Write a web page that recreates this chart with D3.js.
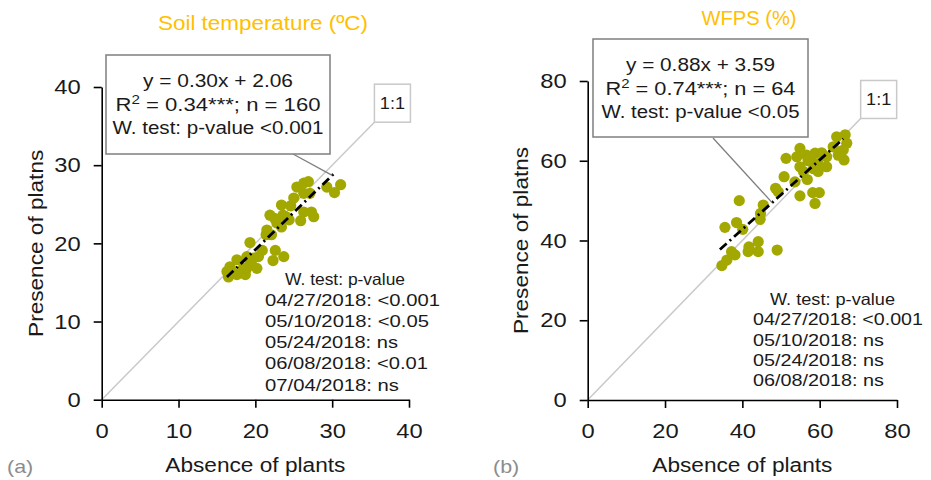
<!DOCTYPE html>
<html>
<head>
<meta charset="utf-8">
<script src="https://cdn.jsdelivr.net/npm/d3@7"></script>
<style>
  html, body { margin: 0; padding: 0; background: #fff; }
  svg { display: block; font-family: "Liberation Sans", Arial, sans-serif; }
</style>
</head>
<body>
<svg id="chart" width="931" height="480"></svg>
<script>
// ---------- DATA ----------
// Panel (a) Soil temperature: absence (x) vs presence (y)
const soilAbsence  = [26.3,26.9,25.4,27.1,26.3,29.3,31.1,30.3,23.4,24.6,21.9,23.6,24.4,26.3,27.3,27.6,25.9,22.8,23.4,21.5,22.1,21.4,19.3,22.6,23.7,22.3,20.4,19.7,19.3,20.2,18.9,17.6,16.7,16.3,16.5,17.6,18.7,18.9,18.4,17.0,20.9,24.0,25.0,22.5];
const soilPresence = [27.7,27.9,27.2,26.4,26.4,27.2,27.5,26.5,24.9,24.8,23.6,23.6,23.0,24.0,24.0,23.4,22.9,22.6,22.1,21.7,21.1,21.1,20.1,19.1,18.3,17.8,18.3,18.1,17.4,16.8,16.8,17.9,17.0,16.4,15.7,16.0,16.0,18.3,16.8,16.3,19.1,23.4,25.8,23.2];
// Panel (b) WFPS
const wfpsAbsence  = [34.7,36.0,37.2,38.1,35.5,38.5,40.1,39.2,41.5,41.7,44.1,44.1,49.0,44.6,44.7,45.4,48.6,49.3,50.8,51.3,54.9,54.1,54.9,53.6,54.9,56.8,56.6,57.9,58.8,59.6,59.6,61.8,61.8,58.2,59.9,58.8,64.4,66.6,67.0,66.1,64.8,66.3,58.4,55.8,60.5,63.5,57.0];
const wfpsPresence = [33.7,35.1,37.2,36.4,43.3,44.5,42.8,50.0,37.2,38.4,39.7,37.2,37.6,45.3,46.8,48.9,53.1,52.2,56.0,60.6,63.1,61.0,58.5,54.7,51.2,55.3,61.4,59.8,61.9,59.3,57.3,58.5,61.0,52.0,52.0,49.3,66.0,66.5,64.4,62.7,61.4,60.2,58.0,57.3,62.0,63.5,60.0];

// fitted lines (as drawn): slope, intercept, x-range
const soilFit = { slope: 0.95, intercept: 0.2, xFrom: 16.3, xTo: 30.4 };
const wfpsFit = { slope: 0.87, intercept: 8.0, xFrom: 34.2, xTo: 66.1 };
// 1:1 line extent
const soilOneToOne = [0, 35.5];
const wfpsOneToOne = [0, 70.6];

const soilTicks = [0, 10, 20, 30, 40];
const wfpsTicks = [0, 20, 40, 60, 80];

const panelTitles = ["Soil temperature (ºC)", "WFPS (%)"];
const soilEq = ["y = 0.30x + 2.06", ["R", "2", " = 0.34***; n = 160"], "W. test: p-value <0.001"];
const wfpsEq = ["y = 0.88x + 3.59", ["R", "2", " = 0.74***; n = 64"], "W. test: p-value <0.05"];
const noteHeader = "W. test: p-value";
const soilDates = ["04/27/2018: <0.001", "05/10/2018: <0.05", "05/24/2018: ns", "06/08/2018: <0.01", "07/04/2018: ns"];
const wfpsDates = ["04/27/2018: <0.001", "05/10/2018: ns", "05/24/2018: ns", "06/08/2018: ns"];

// ---------- DRAW ----------
const svg = d3.select("#chart");
const dotColor = "#a2a800";
const titleColor = "#ffc000";
const WIDE = 1.13; // reference typeface is wider than Liberation Sans

// stretch text horizontally to a target width (or by factor)
function stretch(sel, target) {
  sel.each(function () {
    const w = this.getComputedTextLength();
    const t = target == null ? w * WIDE : target;
    d3.select(this).attr("textLength", t).attr("lengthAdjust", "spacingAndGlyphs");
  });
}

function panel(cfg) {
  const x = d3.scaleLinear().domain(cfg.domain).range(cfg.xRange);
  const y = d3.scaleLinear().domain(cfg.domain).range(cfg.yRange);
  const g = svg.append("g");

  // 1:1 line
  g.append("line")
    .attr("x1", x(cfg.one[0])).attr("y1", y(cfg.one[0]))
    .attr("x2", x(cfg.one[1])).attr("y2", y(cfg.one[1]))
    .attr("stroke", "#c9c9c9").attr("stroke-width", 1.5);

  // axes
  const xAxis = d3.axisBottom(x).tickValues(cfg.ticks).tickSize(8).tickSizeOuter(0).tickPadding(15);
  const yAxis = d3.axisLeft(y).tickValues(cfg.ticks).tickSize(8).tickSizeOuter(0).tickPadding(13);
  const gx = g.append("g").attr("transform", `translate(0,${y(0)})`).call(xAxis);
  const gy = g.append("g").attr("transform", `translate(${x(0)},0)`).call(yAxis);
  [gx, gy].forEach(a => {
    a.selectAll("path,line").attr("stroke", "#000").attr("stroke-width", 1.6);
    a.selectAll("text").attr("font-size", 21).attr("fill", "#1a1a1a")
      .attr("font-family", "'Liberation Sans', Arial, sans-serif");
    stretch(a.selectAll("text"));
  });

  // points
  g.append("g").selectAll("circle")
    .data(cfg.xs.map((v, i) => [v, cfg.ys[i]]))
    .join("circle")
    .attr("cx", d => x(d[0])).attr("cy", d => y(d[1]))
    .attr("r", 5.6).attr("fill", dotColor);

  // fitted line
  const f = cfg.fit;
  g.append("line")
    .attr("x1", x(f.xFrom)).attr("y1", y(f.slope * f.xFrom + f.intercept))
    .attr("x2", x(f.xTo)).attr("y2", y(f.slope * f.xTo + f.intercept))
    .attr("stroke", "#000").attr("stroke-width", 2.8)
    .attr("stroke-dasharray", "9,4,2,4");

  // leader line to fitted line
  g.append("line")
    .attr("x1", cfg.leaderFrom[0]).attr("y1", cfg.leaderFrom[1])
    .attr("x2", x(cfg.leaderX)).attr("y2", y(f.slope * cfg.leaderX + f.intercept))
    .attr("stroke", "#7f7f7f").attr("stroke-width", 1.3);

  // 1:1 label box
  g.append("rect")
    .attr("x", x(cfg.one[1])).attr("y", y(cfg.one[1]) - 38)
    .attr("width", 36).attr("height", 38)
    .attr("fill", "#fff").attr("stroke", "#c9c9c9").attr("stroke-width", 1.5);
  g.append("text")
    .attr("x", x(cfg.one[1]) + 18).attr("y", y(cfg.one[1]) - 13)
    .attr("text-anchor", "middle").attr("font-size", 16).attr("fill", "#1a1a1a")
    .text("1:1").call(stretch);

  // equation box
  const b = cfg.box;
  g.append("rect")
    .attr("x", b.x).attr("y", b.y).attr("width", b.w).attr("height", b.h)
    .attr("fill", "#fff").attr("stroke", "#7f7f7f").attr("stroke-width", 1.5);
  const cx = b.x + b.w / 2;
  cfg.eq.forEach((line, i) => {
    const t = g.append("text")
      .attr("x", cx).attr("y", b.y + 32 + i * 23.5)
      .attr("text-anchor", "middle").attr("font-size", 17.5).attr("fill", "#1a1a1a");
    if (Array.isArray(line)) {
      t.append("tspan").text(line[0]);
      t.append("tspan").attr("dy", -7).attr("font-size", 12).text(line[1]);
      t.append("tspan").attr("dy", 7).text(line[2]);
    } else {
      t.text(line);
    }
    stretch(t, cfg.eqWidths[i]);
  });

  // title
  g.append("text")
    .attr("x", cfg.titlePos[0]).attr("y", cfg.titlePos[1])
    .attr("text-anchor", "middle").attr("font-size", 20).attr("fill", titleColor)
    .text(cfg.title).call(stretch, cfg.titleWidth);

  // axis titles
  g.append("text")
    .attr("x", (cfg.xRange[0] + cfg.xRange[1]) / 2).attr("y", 472)
    .attr("text-anchor", "middle").attr("font-size", 20).attr("fill", "#1a1a1a")
    .text("Absence of plants").call(stretch, 180);
  g.append("text")
    .attr("transform", `translate(${cfg.yTitleX},${(cfg.yRange[0] + cfg.yRange[1]) / 2}) rotate(-90)`)
    .attr("text-anchor", "middle").attr("font-size", 20).attr("fill", "#1a1a1a")
    .text("Presence of platns").call(stretch);

  // panel letter
  g.append("text")
    .attr("x", cfg.letterX).attr("y", 473)
    .attr("font-size", 19).attr("fill", "#8c8c8c")
    .text(cfg.letter).call(stretch);

  // W test note
  const n = cfg.note;
  g.append("text")
    .attr("x", n.headX).attr("y", n.y0)
    .attr("font-size", 16.5).attr("fill", "#1a1a1a")
    .text(noteHeader).call(stretch, n.headW);
  cfg.dates.forEach((d, i) => {
    g.append("text")
      .attr("x", n.x).attr("y", n.y0 + (i + 1) * n.dy)
      .attr("font-size", 16.5).attr("fill", "#1a1a1a")
      .text(d).call(stretch, n.widths[i]);
  });
}

panel({
  domain: [0, 40], xRange: [101.7, 409], yRange: [399.7, 87],
  ticks: soilTicks, xs: soilAbsence, ys: soilPresence,
  fit: soilFit, one: soilOneToOne,
  box: { x: 106, y: 55, w: 224, h: 99 },
  eqWidths: [150, 205, 211],
  leaderFrom: [293, 154], leaderX: 30.0,
  eq: soilEq, title: panelTitles[0], titlePos: [263, 30], titleWidth: 210,
  yTitleX: 43, letter: "(a)", letterX: 7,
  note: { headX: 285, headW: 120, x: 265, y0: 285, dy: 21.1, widths: [175, 164, 133, 163, 134] },
  dates: soilDates
});

panel({
  domain: [0, 80], xRange: [587.7, 897], yRange: [400, 81],
  ticks: wfpsTicks, xs: wfpsAbsence, ys: wfpsPresence,
  fit: wfpsFit, one: wfpsOneToOne,
  box: { x: 593, y: 39, w: 215, h: 98 },
  eqWidths: [149, 190, 198],
  leaderFrom: [713, 138], leaderX: 47.7,
  eq: wfpsEq, title: panelTitles[1], titlePos: [749, 25], titleWidth: 95,
  yTitleX: 528, letter: "(b)", letterX: 493,
  note: { headX: 770, headW: 125, x: 753, y0: 305, dy: 20.3, widths: [170, 131, 131, 131] },
  dates: wfpsDates
});
</script>
</body>
</html>
